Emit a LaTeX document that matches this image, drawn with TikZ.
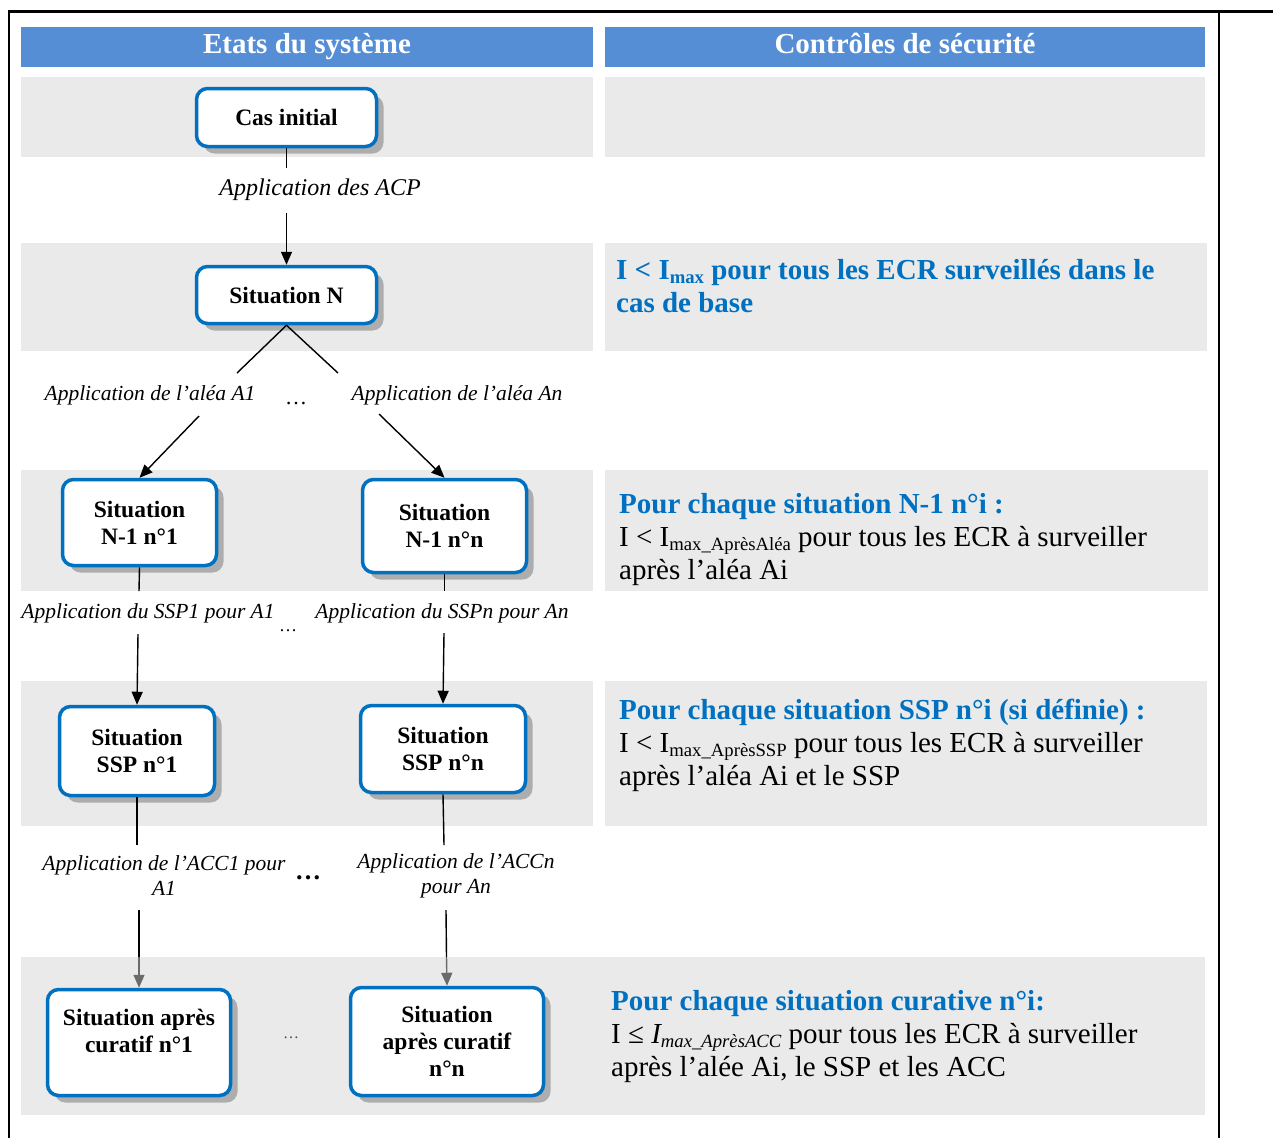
\documentclass[tikz,border=0pt]{standalone}
\usepackage{fontspec}
\setmainfont{Liberation Serif}
\usetikzlibrary{arrows.meta,shadows}
\definecolor{hdrblue}{HTML}{558ED5}
\definecolor{rowgray}{HTML}{EAEAEA}
\definecolor{boxblue}{HTML}{0070C0}
\definecolor{txtblue}{HTML}{0070C0}
\newcommand\fsz[2]{\fontsize{#1}{#2}\selectfont}
\newcommand\sbs[1]{\raisebox{-0.28ex}{\fsz{18.7}{19}#1}}
\begin{document}
\begin{tikzpicture}[x=1pt,y=-1pt,
  stbox/.style={draw=boxblue, line width=3.5pt, rounded corners=11pt, fill=white, align=center,
    font=\fsz{23.5}{27}\bfseries, inner sep=0pt,
    drop shadow={shadow xshift=7pt, shadow yshift=-7pt, fill=black!32, opacity=1}},
  hdr/.style={fill=hdrblue, text=white, font=\fsz{29}{33}\bfseries, minimum height=40pt, inner sep=0pt,
    text height=19pt, text depth=7pt},
  lbl/.style={font=\fsz{21.5}{25}\itshape, align=center, inner sep=0pt},
  dotsl/.style={inner sep=0pt},
  ctl/.style={anchor=north west, align=left, inner sep=0pt, font=\fsz{29}{33}},
  conn/.style={line width=1.4pt},
  arr/.style={conn, -{Triangle[length=13pt,width=11pt]}},
  garr/.style={line width=1.4pt, draw=black!58, -{Triangle[length=13pt,width=11pt]}}
]
\useasboundingbox (0,0) rectangle (1273,1138);
% frame
\draw[line width=3pt] (8,11) -- (1273,11);
\draw[line width=2pt] (9,11) -- (9,1138);
\draw[line width=2pt] (1219,11) -- (1219,1138);
% gray rows
\fill[rowgray] (21,77) rectangle (593,157);
\fill[rowgray] (605,77) rectangle (1205,157);
\fill[rowgray] (21,243) rectangle (593,351);
\fill[rowgray] (605,243) rectangle (1207,351);
\fill[rowgray] (21,470) rectangle (593,591);
\fill[rowgray] (605,470) rectangle (1208,591);
\fill[rowgray] (21,681) rectangle (593,826);
\fill[rowgray] (605,681) rectangle (1207,826);
\fill[rowgray] (21,957) rectangle (1205,1115);
% headers
\node[hdr, minimum width=572pt] (hl) at (307,47) {Etats du système};
\node[hdr, minimum width=600pt] (hr) at (905,47) {Contrôles de sécurité};
% boxes
\node[stbox, minimum width=180pt, minimum height=58pt] (cas) at (286.5,117.5) {Cas initial};
\node[stbox, minimum width=180pt, minimum height=57pt] (sitN) at (286.5,295) {Situation N};
\node[stbox, minimum width=154pt, minimum height=86pt] (n1a) at (139.5,522.5) {Situation\\N-1 n°1};
\node[stbox, minimum width=164pt, minimum height=93pt] (n1n) at (444.5,526) {Situation\\N-1 n°n};
\node[stbox, minimum width=155pt, minimum height=89pt] (ssp1) at (137,751) {Situation\\SSP n°1};
\node[stbox, minimum width=165pt, minimum height=87pt] (sspn) at (443,749) {Situation\\SSP n°n};
\node[stbox, minimum width=183pt, minimum height=106pt] (cur1) at (139,1042.5) {Situation après\\curatif n°1\\[-12pt]\strut};
\node[stbox, minimum width=193pt, minimum height=108pt] (curn) at (447,1041.5) {Situation\\après curatif\\n°n};
% labels
\node[lbl, font=\fsz{24}{27}\itshape] (lacp) at (320,190) {Application des ACP};
\node[lbl] (la1) at (150,395) {Application de l’aléa A1};
\node[lbl] (lan) at (457,395) {Application de l’aléa An};
\node[dotsl, font=\fsz{22}{24}] (d1) at (296,404) {\dots};
\node[lbl] (lssp1) at (148,613) {Application du SSP1 pour A1};
\node[lbl] (lsspn) at (442,613) {Application du SSPn pour An};
\node[dotsl, font=\fsz{18}{20}] (d2) at (288,631) {\dots};
\node[lbl] (lacc1) at (164,876) {Application de l’ACC1 pour\\A1};
\node[lbl] (laccn) at (456,876) {Application de l’ACCn\\pour An};
\node[dotsl, font=\fsz{26}{28}\bfseries] (d3) at (308,878) {\dots};
\node[dotsl, font=\fsz{16}{18}, text=black!70] (d4) at (291,1038) {\dots};
% coordinates for interrupted connectors
\coordinate (c1) at (286.5,168);
\coordinate (c2) at (286.5,213);
\coordinate (a1s) at (237,373);
\coordinate (a2s) at (338,373);
\coordinate (a1e) at (199,416);
\coordinate (a2e) at (379,414);
\coordinate (s1a) at (139,591);
\coordinate (s1b) at (138,634);
\coordinate (sna) at (444.5,591);
\coordinate (snb) at (444,633);
\coordinate (k1a) at (137,845);
\coordinate (k1b) at (139,910);
\coordinate (k1c) at (139,957);
\coordinate (kna) at (444,845);
\coordinate (knb) at (446,910);
\coordinate (knc) at (446.5,957);
% connectors
\draw[conn] (cas.south) -- (c1);
\draw[arr] (c2) -- (sitN.north);
\draw[conn] (sitN.south) -- (a1s);
\draw[conn] (sitN.south) -- (a2s);
\draw[arr] (a1e) -- (n1a.north);
\draw[arr] (a2e) -- (n1n.north);
\draw[conn] (n1a.south) -- (s1a);
\draw[arr] (s1b) -- (ssp1.north);
\draw[conn] (n1n.south) -- (sna);
\draw[arr] (snb) -- (sspn.north);
\draw[conn] (ssp1.south) -- (k1a);
\draw[conn] (k1b) -- (k1c);
\draw[garr] (k1c) -- (cur1.north);
\draw[conn] (sspn.south) -- (kna);
\draw[conn] (knb) -- (knc);
\draw[garr] (knc) -- (curn.north);
% control texts
\node[ctl, text=txtblue, font=\fsz{29}{33}\bfseries] (t2) at (616,256)
  {\strut I < I\sbs{max} pour tous les ECR surveillés dans le\\cas de base};
\node[ctl] (t3) at (619,490)
  {\strut\textcolor{txtblue}{\bfseries Pour chaque situation N-1 n°i :}\\I < I\sbs{max\_AprèsAléa} pour tous les ECR à surveiller\\après l’aléa Ai};
\node[ctl] (t4) at (619,696)
  {\strut\textcolor{txtblue}{\bfseries Pour chaque situation SSP n°i (si définie) :}\\I < I\sbs{max\_AprèsSSP} pour tous les ECR à surveiller\\après l’aléa Ai et le SSP};
\node[ctl] (t5) at (611,987)
  {\strut\textcolor{txtblue}{\bfseries Pour chaque situation curative n°i:}\\I ≤ \textit{I\sbs{max\_AprèsACC}} pour tous les ECR à surveiller\\après l’alée Ai, le SSP et les ACC};
\end{tikzpicture}
\end{document}
